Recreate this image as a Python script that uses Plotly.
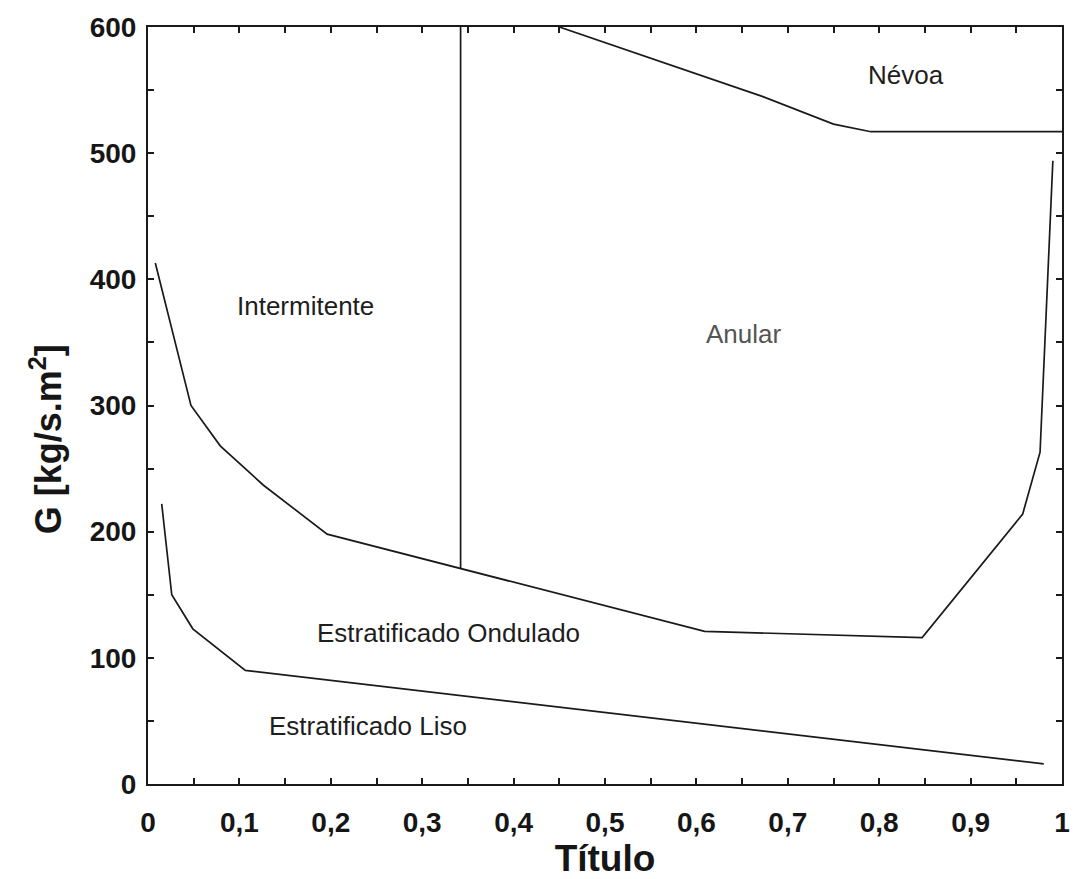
import plotly.graph_objects as go

# Boundary: Intermitente/Anular (above) vs Estratificado Ondulado (below)
x_ondulado = [0.008, 0.047, 0.079, 0.126, 0.196, 0.609, 0.847, 0.957, 0.976, 0.990]
g_ondulado = [413, 300, 268, 237, 198, 121, 116, 214, 263, 494]

# Boundary: Estratificado Ondulado vs Estratificado Liso
x_liso = [0.015, 0.026, 0.049, 0.1065, 0.980]
g_liso = [222, 150, 123, 90, 16]

# Boundary: Anular vs Nevoa
x_nevoa = [0.450, 0.672, 0.750, 0.791, 1.000]
g_nevoa = [600, 545, 523, 517, 517]

# Boundary: Intermitente vs Anular (vertical)
x_interm = [0.342, 0.342]
g_interm = [171, 600]

# Region labels
label_text = ["Intermitente", "Anular", "Névoa", "Estratificado Ondulado", "Estratificado Liso"]
label_x = [0.172, 0.651, 0.829, 0.329, 0.241]
label_g = [379, 357, 562, 120, 46]
label_color = ["#1e1e1e", "#555555", "#1e1e1e", "#1e1e1e", "#1e1e1e"]

x_tickvals = [0, 0.1, 0.2, 0.3, 0.4, 0.5, 0.6, 0.7, 0.8, 0.9, 1.0]
x_ticktext = ["0", "0,1", "0,2", "0,3", "0,4", "0,5", "0,6", "0,7", "0,8", "0,9", "1"]
y_tickvals = [0, 100, 200, 300, 400, 500, 600]
y_ticktext = ["0", "100", "200", "300", "400", "500", "600"]

FONT = "Liberation Sans, Arial, sans-serif"
LINE = dict(color="#1a1a1a", width=1.7)

fig = go.Figure()
for xs, gs in [(x_ondulado, g_ondulado), (x_liso, g_liso), (x_nevoa, g_nevoa), (x_interm, g_interm)]:
    fig.add_trace(go.Scatter(x=xs, y=gs, mode="lines", line=LINE, showlegend=False,
                             hoverinfo="skip", cliponaxis=False))

for t, xv, gv, c in zip(label_text, label_x, label_g, label_color):
    fig.add_annotation(x=xv, y=gv, xref="x", yref="y", text=t, showarrow=False,
                       font=dict(family=FONT, size=26, color=c), xanchor="center", yanchor="middle")

# y axis title (placed as annotation to match its vertical position)
fig.add_annotation(x=-0.112, y=0.455, xref="paper", yref="paper", text="G [kg/s.m<sup>2</sup>]",
                   showarrow=False, textangle=-90, xanchor="center", yanchor="middle",
                   font=dict(family=FONT, size=36, color="#161616", weight="bold"))

axis_common = dict(
    showline=True, linewidth=2, linecolor="#1a1a1a", mirror="allticks",
    ticks="inside", ticklen=6, tickwidth=1.5, tickcolor="#1a1a1a",
    showgrid=False, zeroline=False,
    tickfont=dict(family=FONT, size=28, color="#161616", weight="bold"),
)

fig.update_layout(
    width=1082, height=879,
    margin=dict(l=148, r=14, t=21, b=95),
    paper_bgcolor="white", plot_bgcolor="white",
    xaxis=dict(range=[0, 1], tickmode="array", tickvals=x_tickvals, ticktext=x_ticktext,
               minor=dict(ticks="inside", dtick=0.05, tick0=0, ticklen=6, tickwidth=1.5, tickcolor="#1a1a1a"),
               ticklabelstandoff=12,
               title=dict(text="Título", font=dict(family=FONT, size=37, color="#161616", weight="bold"),
                          standoff=0),
               **axis_common),
    yaxis=dict(range=[0, 600], tickmode="array", tickvals=y_tickvals, ticktext=y_ticktext,
               minor=dict(ticks="inside", dtick=50, tick0=0, ticklen=6, tickwidth=1.5, tickcolor="#1a1a1a"),
               ticklabelstandoff=4,
               **axis_common),
)

fig.write_html("out.html")
